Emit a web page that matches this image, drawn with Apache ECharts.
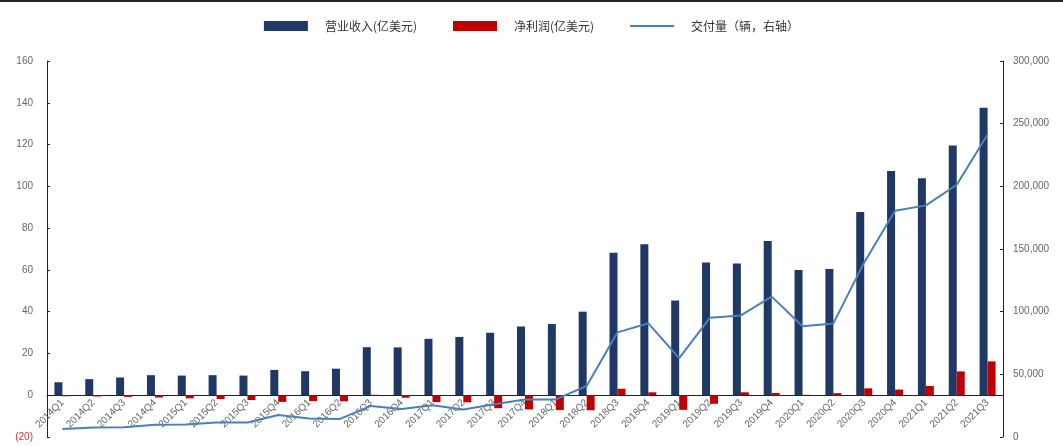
<!DOCTYPE html>
<html>
<head>
<meta charset="utf-8">
<script src="https://cdn.jsdelivr.net/npm/echarts@6/dist/echarts.min.js"></script>
<style>
  html, body { margin: 0; padding: 0; background: #fff; }
  #main { width: 1063px; height: 446px; }
</style>
</head>
<body>
<div id="main"></div>
<script>
// quarters
var quarters = ['2014Q1','2014Q2','2014Q3','2014Q4','2015Q1','2015Q2','2015Q3','2015Q4',
  '2016Q1','2016Q2','2016Q3','2016Q4','2017Q1','2017Q2','2017Q3','2017Q4',
  '2018Q1','2018Q2','2018Q3','2018Q4','2019Q1','2019Q2','2019Q3','2019Q4',
  '2020Q1','2020Q2','2020Q3','2020Q4','2021Q1','2021Q2','2021Q3'];

// revenue, 亿美元
var revenue = [6.2, 7.7, 8.5, 9.6, 9.4, 9.6, 9.4, 12.1,
  11.5, 12.7, 23.0, 22.9, 27.0, 27.9, 29.9, 32.9,
  34.1, 40.0, 68.2, 72.3, 45.4, 63.5, 63.0, 73.8,
  59.9, 60.4, 87.7, 107.4, 103.9, 119.6, 137.6];

// net profit, 亿美元
var profit = [-0.5, -0.6, -0.8, -1.1, -1.5, -1.8, -2.3, -3.2,
  -2.8, -2.9, 0.2, -1.2, -3.3, -3.4, -6.2, -6.8,
  -7.1, -7.2, 3.1, 1.4, -7.0, -4.1, 1.4, 1.1,
  0.2, 1.0, 3.3, 2.7, 4.4, 11.4, 16.2];

// deliveries, 辆 (right axis)
var deliveries = [6457, 7579, 7785, 9834, 10045, 11532, 11580, 17478,
  14820, 14402, 24821, 22252, 25418, 22026, 26137, 29967,
  29980, 40740, 83500, 90700, 63000, 95200, 97000, 112000,
  88400, 90650, 139300, 180570, 184800, 201250, 241300];

var leftTicks = { min: -20, max: 160, step: 20 };
var rightTicks = { min: 0, max: 300000, step: 50000 };

var chart = echarts.init(document.getElementById('main'));

var option = {
  animation: false,
  backgroundColor: '#fff',
  textStyle: { fontFamily: 'Arial, "Liberation Sans", "Noto Sans CJK SC"' },
  graphic: [{
    type: 'rect',
    shape: { x: 0, y: 0, width: 1063, height: 2 },
    style: { fill: '#222' }
  }],
  legend: {
    left: 'center',
    top: 15,
    itemWidth: 44,
    itemHeight: 10,
    itemGap: 36,
    textStyle: { fontSize: 12, color: '#333', fontFamily: '"Noto Sans CJK SC"', padding: [0, 0, 0, 12] },
    data: [
      { name: '营业收入(亿美元)', icon: 'rect' },
      { name: '净利润(亿美元)', icon: 'rect' },
      { name: '交付量（辆，右轴）', icon: 'path://M0,0 L44,0 L44,2 L0,2 Z' }
    ]
  },
  grid: { left: 47, right: 60, top: 61, bottom: 9, containLabel: false, outerBoundsMode: 'none' },
  xAxis: {
    type: 'category',
    data: quarters,
    axisLine: { onZero: true, lineStyle: { color: '#222', width: 1 } },
    axisTick: { show: false },
    // labels sit under the zero line, not at the grid bottom
    axisLabel: { rotate: 45, fontSize: 10, color: '#666', margin: -36, interval: 0 }
  },
  yAxis: [{
    type: 'value',
    min: leftTicks.min,
    max: leftTicks.max,
    interval: leftTicks.step,
    splitLine: { show: false },
    axisLine: { show: true, onZero: false, lineStyle: { color: '#222' } },
    axisTick: { show: true, inside: true, length: 3, lineStyle: { color: '#222' } },
    axisLabel: {
      fontSize: 10,
      margin: 14,
      formatter: function (v) { return v < 0 ? '(' + (-v) + ')' : String(v); },
      color: function (v) { return Number(v) < 0 ? '#e03030' : '#666'; }
    }
  }, {
    type: 'value',
    min: rightTicks.min,
    max: rightTicks.max,
    interval: rightTicks.step,
    splitLine: { show: false },
    axisLine: { show: true, lineStyle: { color: '#222' } },
    axisTick: { show: true, inside: true, length: 3, lineStyle: { color: '#222' } },
    axisLabel: {
      fontSize: 10,
      color: '#666',
      margin: 10,
      formatter: function (v) { return v.toLocaleString('en-US'); }
    }
  }],
  series: [{
    name: '营业收入(亿美元)',
    type: 'bar',
    data: revenue,
    barWidth: 8,
    barGap: '0%',
    itemStyle: { color: '#1f3864' }
  }, {
    name: '净利润(亿美元)',
    type: 'bar',
    data: profit,
    barWidth: 8,
    itemStyle: { color: '#c00000' }
  }, {
    name: '交付量（辆，右轴）',
    type: 'line',
    yAxisIndex: 1,
    data: deliveries,
    symbol: 'none',
    lineStyle: { color: '#4a7fbd', width: 2 },
    itemStyle: { color: '#4a7fbd' }
  }]
};

chart.setOption(option);
</script>
</body>
</html>
